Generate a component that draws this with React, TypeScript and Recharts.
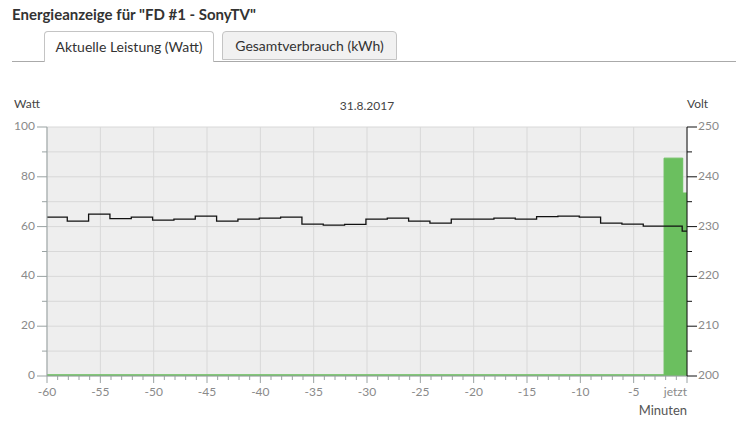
import React from 'react';
import { ComposedChart, XAxis, YAxis, CartesianGrid, Area, Line } from 'recharts';

const titleText = 'Energieanzeige für "FD #1 - SonyTV"';
const tabLabels = ['Aktuelle Leistung (Watt)', 'Gesamtverbrauch (kWh)'];
const dateLabel = '31.8.2017';
const leftAxisTitle = 'Watt';
const rightAxisTitle = 'Volt';
const xAxisTitle = 'Minuten';
const nowLabel = 'jetzt';

// power (Watt), step series
const powerTimes = [-60, -2.15, -0.4, 0];
const powerValues = [0.5, 87.5, 73.5, 73.5];

// voltage (Volt), step series
const voltTimes = [
  -60, -58.1, -56.1, -54.1, -52.1, -50.1, -48.1, -46.1, -44.1, -42.1, -40.1, -38.1, -36.1, -34.1,
  -32.1, -30.1, -28.1, -26.1, -24.1, -22.1, -20.1, -18.1, -16.1, -14.1, -12.1, -10.1, -8.1, -6.1,
  -4.1, -2.1, -0.45, 0,
];
const voltValues = [
  231.9, 231.1, 232.5, 231.6, 231.9, 231.3, 231.5, 232.1, 231.1, 231.5, 231.7, 231.9, 230.5, 230.3,
  230.45, 231.5, 231.7, 231.1, 230.7, 231.5, 231.5, 231.7, 231.5, 232.0, 232.1, 231.9, 230.7, 230.5,
  230.1, 230.1, 229.1, 229.1,
];

const xTicks = Array.from({ length: 61 }, (_, i) => i - 60);
const xGrid = [-60, -55, -50, -45, -40, -35, -30, -25, -20, -15, -10, -5, 0];
const wattTicks = [0, 10, 20, 30, 40, 50, 60, 70, 80, 90, 100];
const wattGrid = [0, 10, 20, 30, 40, 50, 60, 70, 80, 90, 100];
const voltTicks = [200, 205, 210, 215, 220, 225, 230, 235, 240, 245, 250];

const powerData = powerTimes.map((t, i) => ({ t, w: powerValues[i] }));
const voltData = voltTimes.map((t, i) => ({ t, v: voltValues[i] }));

const FONT = 'Lato, "Open Sans", sans-serif';
const GREEN = '#6bbf5f';
const AXIS_GRAY = '#9aa3a3';
const LABEL_GRAY = '#8a8a8a';

const XTick = (props: any) => {
  const { x, y, payload } = props;
  const v = payload.value as number;
  const major = v % 5 === 0;
  return (
    <g>
      <line x1={x} x2={x} y1={y} y2={y + (major ? 7 : 4)} stroke={AXIS_GRAY} strokeWidth={1} />
      {major && (
        <text
          x={x}
          y={y + 17}
          textAnchor={v === 0 ? 'end' : 'middle'}
          dominantBaseline="middle"
          fill={LABEL_GRAY}
          fontSize={12}
          fontFamily={FONT}
        >
          {v === 0 ? nowLabel : String(v)}
        </text>
      )}
    </g>
  );
};

const WattTick = (props: any) => {
  const { x, y, payload } = props;
  const v = payload.value as number;
  const major = v % 20 === 0;
  return (
    <g>
      <line x1={x - (major ? 10 : 5)} x2={x} y1={y} y2={y} stroke={AXIS_GRAY} strokeWidth={1} />
      {major && (
        <text x={x - 12} y={y} textAnchor="end" dominantBaseline="middle" fill={LABEL_GRAY} fontSize={12} fontFamily={FONT}>
          {String(v)}
        </text>
      )}
    </g>
  );
};

const VoltTick = (props: any) => {
  const { x, y, payload } = props;
  const v = payload.value as number;
  const major = v % 10 === 0;
  return (
    <g>
      <line x1={x} x2={x + (major ? 10 : 5)} y1={y} y2={y} stroke="#111" strokeWidth={1} />
      {major && (
        <text x={x + 11} y={y} textAnchor="start" dominantBaseline="middle" fill={LABEL_GRAY} fontSize={12} fontFamily={FONT}>
          {String(v)}
        </text>
      )}
    </g>
  );
};

export default function App() {
  return (
    <div style={{ position: 'absolute', left: 0, top: 0, width: 736, height: 424, fontFamily: FONT, background: '#fff' }}>
      <ComposedChart width={736} height={424} margin={{ top: 127, right: 0, bottom: 18, left: 0 }}>
        <CartesianGrid
          fill="#eeeeee"
          stroke="#d8d8d8"
          verticalValues={xGrid}
          horizontalValues={wattGrid}
        />
        <XAxis
          dataKey="t"
          type="number"
          domain={[-60, 0]}
          ticks={xTicks}
          interval={0}
          allowDataOverflow
          height={30}
          tickSize={0}
          tickMargin={0}
          tickLine={false}
          tick={<XTick />}
          stroke={AXIS_GRAY}
        />
        <YAxis
          type="number"
          domain={[0, 100]}
          ticks={wattTicks}
          interval={0}
          width={47}
          tickSize={0}
          tickMargin={0}
          tickLine={false}
          tick={<WattTick />}
          stroke={AXIS_GRAY}
          allowDataOverflow
        />
        <YAxis
          yAxisId="v"
          orientation="right"
          type="number"
          domain={[200, 250]}
          ticks={voltTicks}
          interval={0}
          width={49}
          tickSize={0}
          tickMargin={0}
          tickLine={false}
          tick={<VoltTick />}
          stroke="#111"
          allowDataOverflow
        />
        <Area
          data={powerData}
          dataKey="w"
          type="stepAfter"
          fill={GREEN}
          fillOpacity={1}
          stroke={GREEN}
          strokeWidth={1}
          isAnimationActive={false}
          dot={false}
          activeDot={false}
        />
        <Line
          data={voltData}
          yAxisId="v"
          dataKey="v"
          type="stepAfter"
          stroke="#111"
          strokeWidth={1.3}
          dot={false}
          activeDot={false}
          isAnimationActive={false}
        />
      </ComposedChart>

      <div style={{ position: 'absolute', left: 12, top: 5, fontSize: 15, lineHeight: '18px', fontWeight: 700, color: '#333', whiteSpace: 'nowrap' }}>
        {titleText}
      </div>

      <div style={{ position: 'absolute', left: 12, top: 61, width: 724, height: 1, background: '#aaaaaa' }} />
      <div
        style={{
          position: 'absolute', left: 44, top: 31, width: 170, height: 31, boxSizing: 'border-box',
          border: '1px solid #c4c4c4', borderBottom: 'none', borderRadius: '4px 4px 0 0', background: '#fff',
          fontSize: 14, lineHeight: '30px', textAlign: 'center', color: '#333', whiteSpace: 'nowrap',
        }}
      >
        {tabLabels[0]}
      </div>
      <div
        style={{
          position: 'absolute', left: 222, top: 31, width: 175, height: 29, boxSizing: 'border-box',
          border: '1px solid #c4c4c4', borderRadius: '4px 4px 0 0', background: '#f1f1f1',
          fontSize: 14, lineHeight: '28px', textAlign: 'center', color: '#333', whiteSpace: 'nowrap',
        }}
      >
        {tabLabels[1]}
      </div>

      <div style={{ position: 'absolute', left: 14, top: 96, fontSize: 12, lineHeight: '16px', color: '#444' }}>{leftAxisTitle}</div>
      <div style={{ position: 'absolute', left: 687, top: 96, fontSize: 12, lineHeight: '16px', color: '#444' }}>{rightAxisTitle}</div>
      <div style={{ position: 'absolute', left: 267, width: 200, textAlign: 'center', top: 98, fontSize: 12, lineHeight: '16px', color: '#444' }}>{dateLabel}</div>
      <div style={{ position: 'absolute', right: 49, top: 402, fontSize: 13, lineHeight: '16px', color: '#555', textAlign: 'right' }}>{xAxisTitle}</div>
    </div>
  );
}
